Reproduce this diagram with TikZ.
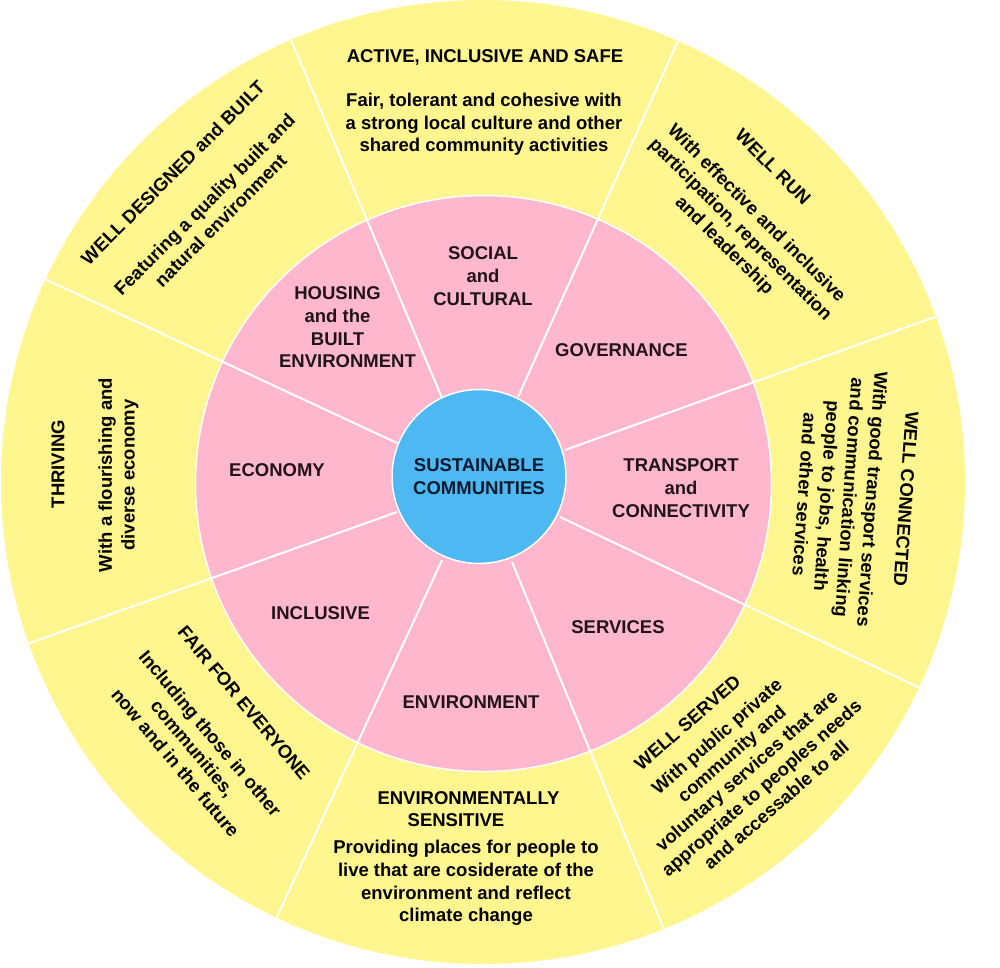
\documentclass[tikz,border=0pt]{standalone}
\usepackage{fontspec}
\setmainfont{Liberation Sans}
\usetikzlibrary{calc}
\definecolor{ringyellow}{HTML}{FFF68F}
\definecolor{ringpink}{HTML}{FFB7CD}
\definecolor{hubblue}{HTML}{4DB8F1}
\definecolor{hubtext}{HTML}{0A1A30}
\definecolor{pinktext}{HTML}{21131A}
\begin{document}
\begin{tikzpicture}[x=1pt,y=-1pt,
  lbl/.style={font=\bfseries\fontsize{18.5}{22.7}\selectfont, align=center, inner sep=0pt, text=black},
  plbl/.style={lbl, text=pinktext},
  divider/.style={draw=white, line width=2pt}]
\useasboundingbox (0,0) rectangle (1000,967);
% rings
\node[circle, fill=ringyellow, inner sep=0pt, minimum size=964pt] (outer) at (483,482) {};
\node[circle, fill=ringpink, draw=white, line width=1.5pt, inner sep=0pt, minimum size=576pt] (middle) at (483.5,483.5) {};
% dividers
\begin{scope}
\clip (483,482) circle[radius=482pt];
\draw[divider] (442,398) -- ($(442,398)!1.1!(292,42)$);
\draw[divider] (518,397) -- ($(518,397)!1.1!(677,43)$);
\draw[divider] (565,450) -- ($(565,450)!1.1!(932,318)$);
\draw[divider] (560,517) -- ($(560,517)!1.1!(918,687)$);
\draw[divider] (512,562) -- ($(512,562)!1.1!(663,927)$);
\draw[divider] (442,560) -- ($(442,560)!1.1!(277,917)$);
\draw[divider] (397,512) -- ($(397,512)!1.1!(30,643)$);
\draw[divider] (397,443) -- ($(397,443)!1.1!(47,280)$);
\end{scope}
% hub
\node[circle, fill=hubblue, draw=white, line width=1.5pt, inner sep=0pt, minimum size=174pt,
  font=\bfseries\fontsize{18.5}{22.7}\selectfont, align=center, text=hubtext] (hub) at (479,476.5) {SUSTAINABLE\\COMMUNITIES};
% pink labels
\node[plbl] (social) at (483,276) {SOCIAL\\and\\CULTURAL};
\node[plbl] (housing) at (337.5,327.5) {HOUSING\\and the\\BUILT\\\hspace*{20pt}ENVIRONMENT};
\node[plbl] (gov) at (621.5,350.5) {GOVERNANCE};
\node[plbl] (trans) at (681,488) {TRANSPORT\\and\\CONNECTIVITY};
\node[plbl] (econ) at (277,470) {ECONOMY};
\node[plbl] (incl) at (320.5,613) {INCLUSIVE};
\node[plbl] (serv) at (618,627) {SERVICES};
\node[plbl] (env) at (471,702) {ENVIRONMENT};
% yellow labels
\node[lbl] (activeT) at (485,57) {ACTIVE, INCLUSIVE AND SAFE};
\node[lbl] (activeS) at (484,124.5) {Fair, tolerant and cohesive with\\a strong local culture and other\\shared community activities};
\node[lbl, rotate=45] (designT) at (172.8,172.8) {WELL DESIGNED and BUILT};
\node[lbl, rotate=45] (designS) at (212.5,212.5) {Featuring a quality built and\\natural environment};
\node[lbl, rotate=-45] (runT) at (773,167) {WELL RUN};
\node[lbl, rotate=-45] (runS) at (740,230) {With effective and inclusive\\participation, representation\\and leadership};
\node[lbl, rotate=-94] (connT) at (906,499) {WELL CONNECTED};
\node[lbl, rotate=-94] (connS) at (838.6,496.8) {With good transport services\\and communication linking\\people to jobs, health\\and other services};
\node[lbl, rotate=90] (thriveT) at (58,464) {THRIVING};
\node[lbl, rotate=90] (thriveS) at (118.5,475) {With a flourishing and\\diverse economy};
\node[lbl, rotate=-50] (fairT) at (244,703) {FAIR FOR EVERYONE};
\node[lbl, rotate=-50] (fairS) at (193,748) {Including those in other\\communities,\\now and in the future};
\node[lbl, rotate=41] (servT) at (687.5,722.5) {WELL SERVED};
\node[lbl, rotate=41] (servS) at (746.4,770.6) {With public private\\community and\\voluntary services that are\\appropriate to peoples needs\\and accessable to all};
\node[lbl] (sensT) at (468.5,809) {ENVIRONMENTALLY\\SENSITIVE\hspace*{25pt}};
\node[lbl] (sensS) at (466,883) {Providing places for people to\\live that are cosiderate of the\\environment and reflect\\climate change};
\end{tikzpicture}
\end{document}
